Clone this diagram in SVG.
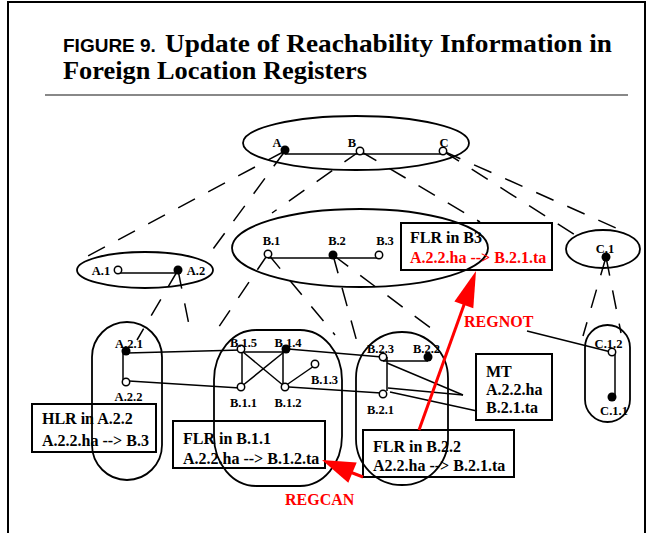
<svg xmlns="http://www.w3.org/2000/svg" width="652" height="533" viewBox="0 0 652 533">
<style>
.frame{fill:none;stroke:#000;stroke-width:2}
.rule{stroke:#888;stroke-width:2}
.ttl{font-family:"Liberation Serif","Times New Roman",serif;font-weight:bold;font-size:26px;fill:#000}
.fig{font-family:"Liberation Sans",Arial,sans-serif;font-weight:bold;font-size:19px;fill:#000}
.sh{fill:none;stroke:#000;stroke-width:1.8}
.ln{stroke:#000;stroke-width:1.5;fill:none}
.dl{stroke:#000;stroke-width:1.5;stroke-dasharray:19 15;fill:none}
.on{fill:#fff;stroke:#000;stroke-width:1.5}
.fn{fill:#000}
.lb{font-family:"Liberation Serif","Times New Roman",serif;font-weight:bold;font-size:12.5px;fill:#000;text-anchor:middle}
.bx{fill:none;stroke:#000;stroke-width:2}
.bt{font-family:"Liberation Serif","Times New Roman",serif;font-weight:bold;font-size:16px;fill:#000}
.rt{font-family:"Liberation Serif","Times New Roman",serif;font-weight:bold;font-size:16px;fill:#f00}
.rl{stroke:#f00;stroke-width:3}
.rh{fill:#f00}
</style>
<rect class="frame" x="8" y="2" width="637" height="560"/>
<g id="title">
<text class="fig" x="63" y="52">FIGURE 9.</text>
<text class="ttl" x="165" y="52" textLength="447" lengthAdjust="spacingAndGlyphs">Update of Reachability Information in</text>
<text class="ttl" x="63" y="79" textLength="304" lengthAdjust="spacingAndGlyphs">Foreign Location Registers</text>
<line class="rule" x1="45" y1="95" x2="628" y2="95"/>
</g>
<g id="regions">
<ellipse id="region-top" class="sh" cx="356" cy="143" rx="113" ry="27"/>
<ellipse id="region-A" class="sh" cx="145" cy="270" rx="68" ry="18"/>
<ellipse id="region-B" class="sh" cx="360" cy="248" rx="128" ry="39"/>
<ellipse id="region-C" class="sh" cx="603" cy="249" rx="37" ry="19"/>
<rect id="region-A2" class="sh" x="92" y="322" width="70" height="158" rx="35" ry="35"/>
<rect id="region-B1" class="sh" x="214" y="330" width="128" height="156" rx="42" ry="50"/>
<rect id="region-B2" class="sh" x="356" y="332" width="92" height="153" rx="46" ry="46"/>
<rect id="region-C1" class="sh" x="585" y="325" width="45" height="97" rx="22.5" ry="22.5"/>
</g>
<g id="connectors">
<line class="dl" x1="285" y1="151" x2="84" y2="258"/>
<line class="dl" x1="285" y1="151" x2="205" y2="260"/>
<line class="dl" x1="360" y1="151" x2="272" y2="213"/>
<line class="dl" x1="360" y1="151" x2="480" y2="222"/>
<line class="dl" x1="443" y1="151" x2="583" y2="240"/>
<line class="dl" x1="443" y1="151" x2="625" y2="232"/>
<line class="dl" x1="178" y1="270" x2="137" y2="340"/>
<line class="dl" x1="178" y1="270" x2="191" y2="335"/>
<line class="dl" x1="268" y1="254" x2="212" y2="337"/>
<line class="dl" x1="268" y1="254" x2="335" y2="335"/>
<line class="dl" x1="333" y1="255" x2="357" y2="342"/>
<line class="dl" x1="333" y1="255" x2="440" y2="335"/>
<line class="dl" x1="606" y1="257" x2="583" y2="336"/>
<line class="dl" x1="606" y1="257" x2="621" y2="333"/>
<line class="ln" x1="285" y1="154" x2="443" y2="154"/>
<line class="ln" x1="118" y1="273" x2="178" y2="273"/>
<line class="ln" x1="268" y1="258" x2="379" y2="258"/>
<line class="ln" x1="123" y1="351" x2="123" y2="382"/>
<line class="ln" x1="127" y1="353" x2="241" y2="350"/>
<line class="ln" x1="129" y1="381" x2="240" y2="388"/>
<line class="ln" x1="241" y1="352" x2="286" y2="352"/>
<line class="ln" x1="242" y1="349" x2="242" y2="387"/>
<line class="ln" x1="283" y1="349" x2="283" y2="387"/>
<line class="ln" x1="243" y1="352" x2="284" y2="386"/>
<line class="ln" x1="284" y1="352" x2="242" y2="386"/>
<line class="ln" x1="285" y1="386" x2="314" y2="366"/>
<line class="ln" x1="288" y1="349" x2="382" y2="357"/>
<line class="ln" x1="289" y1="387" x2="381" y2="393"/>
<line class="ln" x1="383" y1="361" x2="428" y2="361"/>
<line class="ln" x1="387" y1="357" x2="387" y2="391"/>
<line class="ln" x1="387" y1="363" x2="463" y2="395"/>
<line class="ln" x1="388" y1="388" x2="463" y2="395"/>
<line class="ln" x1="390" y1="392" x2="477" y2="411"/>
<line class="ln" x1="527" y1="331" x2="611" y2="352"/>
<line class="ln" x1="615" y1="352" x2="615" y2="397"/>
</g>
<g id="node-A"><circle class="fn" cx="285" cy="150" r="4.5"/><text class="lb" x="277" y="147">A</text></g>
<g id="node-B"><circle class="on" cx="360" cy="151" r="3.7"/><text class="lb" x="352" y="147">B</text></g>
<g id="node-C"><circle class="on" cx="443" cy="151" r="3.7"/><text class="lb" x="444" y="147">C</text></g>
<g id="node-A1"><circle class="on" cx="118" cy="270" r="3.7"/><text class="lb" x="101" y="275">A.1</text></g>
<g id="node-A2"><circle class="fn" cx="178" cy="270" r="4.5"/><text class="lb" x="196" y="275">A.2</text></g>
<g id="node-B1"><circle class="on" cx="268" cy="254" r="3.7"/><text class="lb" x="271.5" y="245">B.1</text></g>
<g id="node-B2"><circle class="fn" cx="333" cy="255" r="4.5"/><text class="lb" x="337" y="245">B.2</text></g>
<g id="node-B3"><circle class="on" cx="379" cy="255" r="3.7"/><text class="lb" x="385" y="245">B.3</text></g>
<g id="node-C1"><circle class="fn" cx="606" cy="257" r="4.5"/><text class="lb" x="605" y="253">C.1</text></g>
<g id="node-A21"><circle class="fn" cx="126" cy="351" r="4.5"/><text class="lb" x="129" y="348">A.2.1</text></g>
<g id="node-A22"><circle class="on" cx="126" cy="382" r="3.7"/><text class="lb" x="128.5" y="401">A.2.2</text></g>
<g id="node-B15"><circle class="on" cx="241" cy="349" r="3.7"/><text class="lb" x="243.5" y="347">B.1.5</text></g>
<g id="node-B14"><circle class="fn" cx="286" cy="349" r="4.5"/><text class="lb" x="288" y="347">B.1.4</text></g>
<g id="node-B11"><circle class="on" cx="241" cy="387" r="3.7"/><text class="lb" x="243.5" y="407">B.1.1</text></g>
<g id="node-B12"><circle class="on" cx="285" cy="387" r="3.7"/><text class="lb" x="288" y="407">B.1.2</text></g>
<g id="node-B13"><circle class="on" cx="315" cy="364" r="3.7"/><text class="lb" x="324.5" y="384">B.1.3</text></g>
<g id="node-B23"><circle class="on" cx="383" cy="357" r="3.7"/><text class="lb" x="380.5" y="353">B.2.3</text></g>
<g id="node-B22"><circle class="fn" cx="428" cy="357" r="4.5"/><text class="lb" x="426.5" y="353">B.2.2</text></g>
<g id="node-B21"><circle class="on" cx="383" cy="394" r="3.7"/><text class="lb" x="380.5" y="414">B.2.1</text></g>
<g id="node-C12"><circle class="on" cx="612" cy="352" r="3.7"/><text class="lb" x="608.5" y="348">C.1.2</text></g>
<g id="node-C11"><circle class="fn" cx="612" cy="397" r="4.5"/><text class="lb" x="614" y="415">C.1.1</text></g>
<g id="box-FLR-B3"><rect class="bx" x="401" y="223" width="151" height="47"/><text class="bt" x="410" y="243">FLR in B3</text><text class="rt" x="410" y="263">A.2.2.ha --&gt; B.2.1.ta</text></g>
<g id="box-MT"><rect class="bx" x="476" y="354" width="76" height="66"/><text class="bt" x="486" y="377">MT</text><text class="bt" x="486" y="395">A.2.2.ha</text><text class="bt" x="486" y="413">B.2.1.ta</text></g>
<g id="box-HLR"><rect class="bx" x="32" y="404" width="124" height="48"/><text class="bt" x="42" y="424">HLR in A.2.2</text><text class="bt" x="42" y="446">A.2.2.ha --&gt; B.3</text></g>
<g id="box-FLR-B11"><rect class="bx" x="173" y="421" width="152" height="47"/><text class="bt" x="183" y="444">FLR in B.1.1</text><text class="bt" x="183" y="464">A.2.2.ha --&gt; B.1.2.ta</text></g>
<g id="box-FLR-B22"><rect class="bx" x="363" y="430" width="151" height="47"/><text class="bt" x="373" y="452">FLR in B.2.2</text><text class="bt" x="373" y="471">A2.2.ha --&gt; B.2.1.ta</text></g>
<g id="msg-REGNOT"><line class="rl" x1="419" y1="430" x2="465" y2="302"/><polygon class="rh" points="476,271 473.3,308.3 454.4,301.5"/><text class="rt" x="464" y="327">REGNOT</text></g>
<g id="msg-REGCAN"><line class="rl" x1="363" y1="477" x2="350" y2="472"/><polygon class="rh" points="322,460 356.7,462.4 348.3,482.8"/><text class="rt" x="285" y="505">REGCAN</text></g>
</svg>
